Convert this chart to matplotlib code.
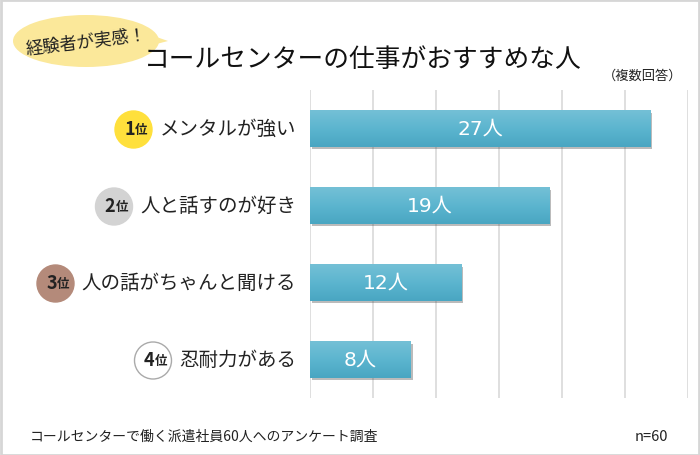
import matplotlib
matplotlib.use("Agg")
import matplotlib.pyplot as plt
import numpy as np
from matplotlib.patches import Ellipse, Rectangle, Polygon
import matplotlib.patheffects as pe
from matplotlib.colors import LinearSegmentedColormap

plt.rcParams['font.family'] = ['Noto Sans CJK JP', 'DejaVu Sans']

categories = ["メンタルが強い", "人と話すのが好き", "人の話がちゃんと聞ける", "忍耐力がある"]
values = [27, 19, 12, 8]
ranks = ["1", "2", "3", "4"]
rank_colors = ["#FFE03C", "#D3D3D3", "#B48A7A", "#FFFFFF"]
title = "コールセンターの仕事がおすすめな人"
badge = "経験者が実感！"
note = "（複数回答）"
footer = "コールセンターで働く派遣社員60人へのアンケート調査"
n_text = "n=60"
xticks = [0, 5, 10, 15, 20, 25, 30]

W, H = 700, 456
fig = plt.figure(figsize=(W / 100, H / 100), dpi=100)

def fx(x):
    return x / W

def fy(y):
    return 1 - y / H

# border
fig.patches.append(Rectangle((0.5 / W, 0.5 / H), 1 - 1.5 / W, 1 - 1.5 / H, transform=fig.transFigure,
                             fill=False, ec="#D6D6D6", lw=2))

ax = fig.add_axes([fx(310), fy(399), fx(688) - fx(310), (399 - 91) / H])
ax.set_xlim(0, 30)
ax.set_ylim(len(categories) - 0.5, -0.5)
for s in ax.spines.values():
    s.set_visible(False)
ax.set_xticks(xticks)
ax.set_yticks([])
ax.tick_params(axis='x', length=0, labelbottom=False)
ax.grid(axis='x', color="#D9D9D9", lw=1.2)
ax.set_axisbelow(True)

y = np.arange(len(categories))
bars = ax.barh(y, values, height=0.47, color="#5BB3CD", zorder=2,
               path_effects=[pe.SimplePatchShadow(offset=(1.5, -2), shadow_rgbFace="#555555", alpha=0.4), pe.Normal()])

grad = np.linspace(0, 1, 64).reshape(-1, 1)
cmap = LinearSegmentedColormap.from_list("g", ["#74C0D6", "#5CB5CF", "#49A6C2"])
for b in bars:
    x0, y0 = b.get_x(), b.get_y()
    w, h = b.get_width(), b.get_height()
    im = ax.imshow(grad, extent=(x0, x0 + w, y0 + h, y0), aspect='auto', cmap=cmap, zorder=3,
                   origin='upper')
    im.set_clip_path(b)
ax.set_xlim(0, 30)
ax.set_ylim(len(categories) - 0.5, -0.5)

for yi, v in zip(y, values):
    ax.text(v / 2, yi, f"{v}人", ha='center', va='center', color='white', fontsize=14.5,
            family=['DejaVu Sans', 'Noto Sans CJK JP'], zorder=5)

# category labels
fig.canvas.draw()
renderer = fig.canvas.get_renderer()
for yi, cat, rk, col in zip(y, categories, ranks, rank_colors):
    ydisp = ax.transData.transform((0, yi))[1]
    ypix = H - ydisp
    t = fig.text(fx(296), fy(ypix), cat, ha='right', va='center', fontsize=14, color="#222222")
    bb = t.get_window_extent(renderer)
    cx = bb.x0 - 26
    ec = "#AAAAAA" if col == "#FFFFFF" else col
    fig.patches.append(Ellipse((fx(cx), fy(ypix + 1)), 37 / W, 37 / H, transform=fig.transFigure,
                               fc=col, ec=ec, lw=1, zorder=1))
    fig.text(fx(cx - 4), fy(ypix), rk, ha='center', va='center', fontsize=13, weight='bold',
             color="#222222")
    fig.text(fx(cx + 8), fy(ypix + 1), "位", ha='center', va='center', fontsize=9, weight='bold',
             color="#222222")

# title and badge
fig.patches.append(Polygon([(fx(145), fy(34)), (fx(168), fy(42)), (fx(145), fy(48))], closed=True,
                           transform=fig.transFigure, fc="#FBE89A", ec="none"))
fig.patches.append(Ellipse((fx(86), fy(42)), 146 / W, 52 / H, transform=fig.transFigure,
                           fc="#FBE89A", ec="none"))
fig.text(fx(86), fy(42), badge, ha='center', va='center', fontsize=12.5, rotation=7, color="#222222")
fig.text(fx(363), fy(60), title, ha='center', va='center', fontsize=18.5, color="#111111")
fig.text(fx(682), fy(76), note, ha='right', va='center', fontsize=9.5, color="#222222")
fig.text(fx(30), fy(437), footer, ha='left', va='center', fontsize=10, color="#222222")
fig.text(fx(668), fy(437), n_text, ha='right', va='center', fontsize=10.5, color="#222222")

fig.savefig("out.png", dpi=100)
